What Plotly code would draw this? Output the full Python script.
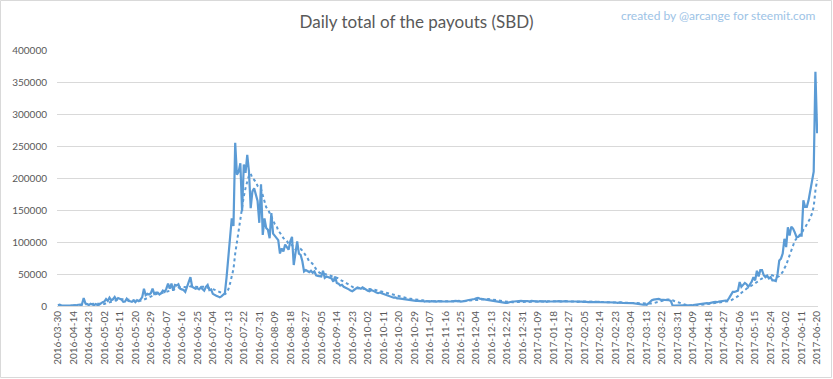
import datetime as dt
import pandas as pd
import plotly.graph_objects as go

# Reporting days: the first record, then an unbroken daily run up to 2017-06-20
first_day = dt.date(2016, 3, 30)
run_start = dt.date(2016, 4, 6)
run_end = dt.date(2017, 6, 20)
days = [first_day] + [run_start + dt.timedelta(d) for d in range((run_end - run_start).days + 1)]
day_labels = [d.isoformat() for d in days]

# Daily payout totals, thousands of SBD
payout_k = [
    1.2, 2.0, 1.0, 0.8, 0.6, 0.9, 0.7, 0.8, 1.0, 0.9,
    1.1, 1.5, 2.0, 1.8, 2.5, 12.5, 4.0, 3.0, 1.5, 3.5,
    2.0, 1.2, 3.0, 1.5, 2.0, 4.5, 6.0, 7.0, 11.0, 8.0,
    13.0, 9.0, 10.5, 14.0, 9.5, 12.5, 11.0, 10.0, 6.5, 7.0,
    11.5, 8.0, 7.5, 6.5, 8.5, 6.0, 9.0, 7.5, 10.0, 14.0,
    27.0, 17.0, 19.0, 18.0, 20.0, 27.0, 19.0, 21.0, 21.0, 18.0,
    20.0, 24.0, 22.0, 27.0, 35.0, 27.0, 35.0, 24.0, 33.0, 32.0,
    34.0, 27.0, 26.0, 25.0, 22.0, 30.0, 35.0, 45.0, 30.0, 29.0,
    27.0, 28.0, 26.0, 29.0, 27.0, 24.0, 30.0, 33.0, 25.0, 26.0,
    19.0, 17.0, 16.0, 15.0, 13.5, 15.0, 18.0, 20.0, 45.0, 80.0,
    110.0, 137.0, 125.0, 255.0, 205.0, 210.0, 223.0, 148.0, 221.0, 208.0,
    236.0, 210.0, 153.0, 179.0, 184.0, 174.0, 164.0, 130.0, 190.0, 111.0,
    137.0, 122.0, 119.0, 106.0, 145.0, 113.0, 110.0, 107.0, 103.0, 82.0,
    90.0, 85.0, 96.0, 92.0, 88.0, 101.0, 108.0, 64.0, 80.0, 101.0,
    82.0, 80.0, 70.0, 54.0, 56.0, 54.0, 53.0, 55.0, 52.0, 54.0,
    48.0, 47.0, 46.0, 46.0, 55.0, 44.0, 46.0, 45.0, 44.0, 43.0,
    38.0, 46.0, 36.0, 35.0, 32.0, 33.0, 30.0, 29.0, 28.0, 26.0,
    24.0, 23.0, 25.0, 27.0, 29.0, 28.0, 27.0, 29.0, 27.0, 25.0,
    24.0, 23.0, 25.0, 24.0, 22.0, 21.0, 20.0, 21.0, 20.0, 19.0,
    18.0, 16.0, 15.0, 14.0, 14.0, 13.0, 13.5, 12.0, 12.0, 11.5,
    11.0, 11.5, 10.5, 10.0, 10.0, 9.5, 9.0, 8.5, 8.0, 8.0,
    7.5, 7.5, 8.0, 7.0, 7.5, 7.0, 7.0, 7.5, 7.0, 7.0,
    7.0, 7.5, 7.0, 6.5, 7.0, 7.0, 7.5, 7.0, 7.0, 7.5,
    7.5, 8.0, 7.5, 8.0, 7.0, 7.0, 7.5, 8.0, 9.0, 9.5,
    9.0, 10.0, 11.0, 12.0, 12.5, 11.5, 11.0, 10.5, 10.0, 10.0,
    9.5, 9.0, 8.5, 8.0, 7.5, 7.0, 6.5, 6.0, 6.0, 5.5,
    5.0, 5.0, 6.0, 6.5, 7.0, 7.0, 7.5, 7.0, 7.5, 8.0,
    7.5, 7.0, 7.5, 7.5, 7.0, 8.0, 7.5, 7.0, 7.5, 7.0,
    7.5, 7.0, 7.0, 7.5, 6.5, 7.0, 7.5, 7.0, 7.0, 7.5,
    7.0, 7.5, 7.0, 7.5, 8.0, 7.5, 7.0, 7.5, 7.0, 7.0,
    7.5, 7.0, 6.5, 7.0, 7.0, 6.5, 7.0, 6.5, 6.0, 6.5,
    6.5, 6.0, 6.5, 6.0, 6.5, 6.0, 6.0, 6.5, 6.0, 5.5,
    6.0, 5.5, 5.5, 6.0, 5.5, 5.0, 5.5, 5.5, 5.0, 5.0,
    5.0, 5.5, 5.0, 4.5, 4.5, 4.0, 3.5, 3.0, 2.5, 2.5,
    2.0, 2.5, 2.0, 4.0, 7.0, 9.0, 10.0, 10.5, 11.5, 11.0,
    10.0, 10.0, 9.5, 9.5, 10.0, 9.0, 8.0, 1.0, 0.5, 0.5,
    0.5, 0.6, 0.5, 0.8, 0.7, 1.0, 0.8, 1.2, 1.0, 1.5,
    2.0, 2.5, 3.0, 3.0, 3.5, 3.5, 4.0, 4.5, 4.0, 5.0,
    5.5, 6.0, 6.5, 6.0, 7.0, 7.5, 7.0, 8.0, 8.5, 9.0,
    13.0, 17.0, 22.0, 22.0, 23.0, 24.0, 37.5, 30.0, 33.0, 36.0,
    34.0, 30.0, 34.0, 38.0, 45.0, 40.0, 55.0, 46.0, 56.0, 56.0,
    48.0, 45.0, 47.0, 43.0, 45.0, 40.0, 40.0, 39.0, 50.0, 71.0,
    74.0, 82.0, 105.0, 92.0, 123.0, 110.0, 124.0, 121.0, 115.0, 108.0,
    108.0, 110.0, 110.0, 165.0, 155.0, 155.0, 165.0, 181.0, 190.0, 210.0,
    366.0, 270.0,
]

y_ticks = [0, 50000, 100000, 150000, 200000, 250000, 300000, 350000, 400000]
x_tick_labels = day_labels[::9]
ma_period = 10

payouts = pd.Series(payout_k, index=day_labels) * 1000
moving_avg = payouts.rolling(ma_period).mean()

BLUE = "#5B9BD5"
GRID = "#D9D9D9"
TEXT = "#595959"
FONT = "Lato"

W, H = 833, 379
ML, MR, MT, MB = 57, 15, 50, 73

fig = go.Figure()
fig.add_trace(go.Scatter(
    x=day_labels, y=payouts.values, mode="lines",
    line=dict(color=BLUE, width=2.2), hoverinfo="x+y",
))
fig.add_trace(go.Scatter(
    x=day_labels, y=moving_avg.values, mode="lines",
    line=dict(color=BLUE, width=2, dash="dot"), hoverinfo="skip",
))

pw, ph = W - ML - MR, H - MT - MB
fig.update_layout(
    width=W, height=H,
    margin=dict(l=ML, r=MR, t=MT, b=MB, pad=0),
    paper_bgcolor="white", plot_bgcolor="white",
    showlegend=False,
    font=dict(family=FONT, color=TEXT, size=10),
    title=dict(
        text="Daily total of the payouts (SBD)",
        x=0.5, xanchor="center", y=1 - 22 / H, yanchor="middle",
        font=dict(family=FONT, size=17, color=TEXT),
    ),
    xaxis=dict(
        type="category", range=[-0.5, len(day_labels) - 0.5],
        tickmode="array", tickvals=x_tick_labels, ticktext=x_tick_labels,
        tickangle=-90, tickfont=dict(size=10, color=TEXT),
        showgrid=False, showline=True, linecolor=GRID, linewidth=1,
        ticks="", zeroline=False,
    ),
    yaxis=dict(
        range=[0, 400000], tickvals=y_ticks, ticktext=[str(v) for v in y_ticks],
        tickfont=dict(size=10, color=TEXT), gridcolor=GRID, gridwidth=1,
        showline=False, zeroline=False, ticks="", ticklabelstandoff=9,
    ),
    annotations=[dict(
        text="created by @arcange for steemit.com",
        xref="paper", yref="paper",
        x=(818 - ML) / pw, y=1 + (MT - 15) / ph,
        xanchor="right", yanchor="middle", showarrow=False,
        font=dict(family=FONT, size=12, color="#9DC3E6"),
    )],
    shapes=[dict(
        type="rect", xref="paper", yref="paper",
        x0=-(ML - 0.5) / pw, x1=1 + (MR - 1.5) / pw,
        y0=-(MB - 1.5) / ph, y1=1 + (MT - 0.5) / ph,
        line=dict(color=GRID, width=1), fillcolor="rgba(0,0,0,0)", layer="below",
    )],
)

fig.write_html("out.html")
